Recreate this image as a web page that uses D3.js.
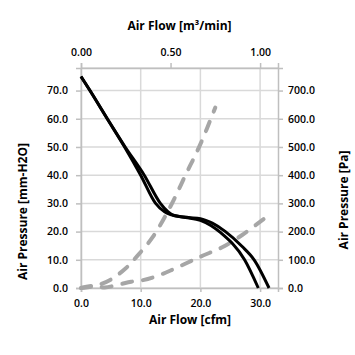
<!DOCTYPE html>
<html><head><meta charset="utf-8">
<script src="https://cdn.jsdelivr.net/npm/d3@7"></script>
<style>body{margin:0;background:#fff}svg{display:block}text{font-family:"Open Sans",sans-serif;font-weight:700;fill:#000}</style>
</head><body><svg id="c" width="355" height="355"></svg>
<script>
// Fan curves (cfm vs mm-H2O)
const flowA = [0, 1.5, 4.4, 7.3, 10.0, 12.5, 14.0, 15.0, 17.5, 20.0, 23.4, 27.4, 29.7];
const pressA = [75, 70, 60, 50, 40, 30, 27, 26, 25, 24, 19.6, 10, 0];
const flowB = [0, 1.5, 4.4, 7.4, 10.6, 13.3, 14.6, 15.5, 18.0, 20.0, 22.0, 24.2, 27.0, 29.0, 31.5];
const pressB = [75, 70, 60, 50, 40, 30, 27, 25.8, 25, 24.6, 23, 20, 14.7, 10, 0];
// System impedance curves
const flowSteep = [0, 2.5, 5, 7.5, 9.4, 12, 15, 17.5, 20, 22.5];
const pressSteep = [0, 0.8, 3, 7, 11.3, 18, 29, 40, 51, 64];
const flowShallow = [0, 2, 4, 6.5, 8.4, 10.4, 12.3, 15, 20, 23.9, 27, 30.7];
const pressShallow = [0, 0.8, 0.2, 1.3, 2.2, 2.8, 3.9, 6.2, 11.1, 14.7, 18.8, 24.6];
// Ticks
const bottomTicks = [0, 10, 20, 30];
const topTicks = [0, 0.5, 1.0];
const leftTicks = [0, 10, 20, 30, 40, 50, 60, 70];
const rightTicks = [0, 100, 200, 300, 400, 500, 600, 700];

const svg = d3.select("#c");
const L = 81, R = 278, T = 68, B = 288;
const x = d3.scaleLinear().domain([0, 33]).range([L, R]);
const xTop = d3.scaleLinear().domain([0, 1.1]).range([L, R]);
const y = d3.scaleLinear().domain([0, 78]).range([B, T]);
const yR = d3.scaleLinear().domain([0, 780]).range([B, T]);

const grid = svg.append("g").attr("stroke", "#d9d9d9").attr("stroke-width", 1.5);
leftTicks.forEach(v => grid.append("line").attr("x1", L).attr("x2", R).attr("y1", y(v)).attr("y2", y(v)));
bottomTicks.forEach(v => grid.append("line").attr("y1", T).attr("y2", B).attr("x1", x(v)).attr("x2", x(v)));
grid.append("line").attr("x1", L).attr("x2", R).attr("y1", T).attr("y2", T);

function styleAxis(g) {
  g.select(".domain").attr("stroke", "#bfbfbf").attr("stroke-width", 1.5);
  g.selectAll(".tick line").attr("stroke", "#bfbfbf").attr("stroke-width", 1.5);
  g.selectAll(".tick text").style("font-size", "10.5px").style("font-weight", "600").attr("fill", "#000");
}
const ax = svg.append("g").attr("transform", `translate(0,${B})`)
  .call(d3.axisBottom(x).tickValues(bottomTicks).tickFormat(d3.format(".1f")).tickSizeOuter(0).tickSize(4).tickPadding(8));
styleAxis(ax);
const axT = svg.append("g").attr("transform", `translate(0,${T})`)
  .call(d3.axisTop(xTop).tickValues(topTicks).tickFormat(d3.format(".2f")).tickSizeOuter(0).tickSize(5).tickPadding(7));
styleAxis(axT);
const ayL = svg.append("g").attr("transform", `translate(${L},0)`)
  .call(d3.axisLeft(y).tickValues(leftTicks).tickFormat(d3.format(".1f")).tickSizeOuter(0).tickSize(5).tickPadding(8));
styleAxis(ayL);
const ayR = svg.append("g").attr("transform", `translate(${R},0)`)
  .call(d3.axisRight(yR).tickValues(rightTicks).tickFormat(d3.format(".1f")).tickSizeOuter(0).tickSize(5).tickPadding(5));
styleAxis(ayR);

const smooth = d3.line().curve(d3.curveMonotoneX);
const dashLine = d3.line().curve(d3.curveCatmullRom.alpha(0.5));
function pts(xs, ys) { return xs.map((v, i) => [x(v), y(ys[i])]); }

svg.append("path").attr("d", dashLine(pts(flowShallow, pressShallow))).attr("fill", "none")
  .attr("stroke", "#a6a6a6").attr("stroke-width", 4).attr("stroke-dasharray", "10,11").attr("stroke-linecap", "round");
svg.append("path").attr("d", dashLine(pts(flowSteep, pressSteep))).attr("fill", "none")
  .attr("stroke", "#a6a6a6").attr("stroke-width", 4).attr("stroke-dasharray", "10,11").attr("stroke-linecap", "round");
svg.append("path").attr("d", smooth(pts(flowA, pressA))).attr("fill", "none")
  .attr("stroke", "#000").attr("stroke-width", 3);
svg.append("path").attr("d", smooth(pts(flowB, pressB))).attr("fill", "none")
  .attr("stroke", "#000").attr("stroke-width", 3);

svg.append("text").attr("x", 179.5).attr("y", 30).attr("text-anchor", "middle").style("font-size", "12px").text("Air Flow [m³/min]");
svg.append("text").attr("x", 190).attr("y", 324).attr("text-anchor", "middle").style("font-size", "12px").text("Air Flow [cfm]");
svg.append("text").attr("transform", "translate(22,211.5) rotate(-90)").attr("text-anchor", "middle")
  .attr("dominant-baseline", "central").style("font-size", "12px").text("Air Pressure [mm-H2O]");
svg.append("text").attr("transform", "translate(343,200) rotate(-90)").attr("text-anchor", "middle")
  .attr("dominant-baseline", "central").style("font-size", "12px").text("Air Pressure [Pa]");
</script></body></html>
